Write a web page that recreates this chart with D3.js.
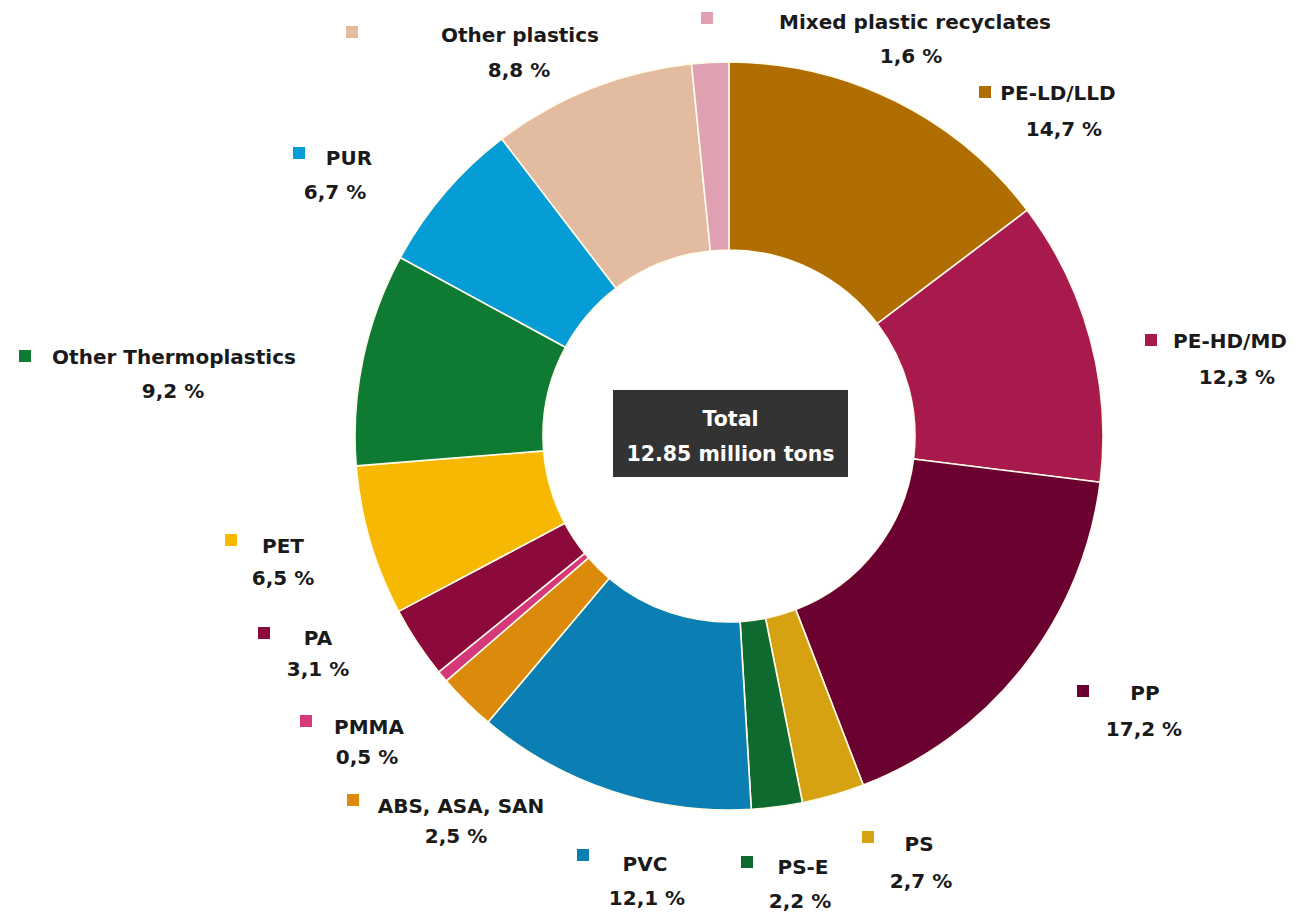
<!DOCTYPE html>
<html>
<head>
<meta charset="utf-8">
<script src="https://cdn.jsdelivr.net/npm/d3@7"></script>
<style>
  html, body { margin: 0; padding: 0; background: #ffffff; }
  svg { display: block; }
  text { font-family: "DejaVu Sans", "Open Sans", sans-serif; }
</style>
</head>
<body>
<svg id="chart" width="1299" height="917"></svg>
<script>
// Plastic types, in clockwise order from 12 o'clock
const categories = [
  "PE-LD/LLD", "PE-HD/MD", "PP", "PS", "PS-E", "PVC", "ABS, ASA, SAN",
  "PMMA", "PA", "PET", "Other Thermoplastics", "PUR", "Other plastics",
  "Mixed plastic recyclates"
];
// Share of total demand, percent
const shares = [14.7, 12.3, 17.2, 2.7, 2.2, 12.1, 2.5, 0.5, 3.1, 6.5, 9.2, 6.7, 8.8, 1.6];
const colors = [
  "#AF6D02", "#A8194D", "#6A0131", "#D7A211", "#0E6A2E", "#0B7FB3", "#DB8A0C",
  "#D5397A", "#8B0A3B", "#F7B802", "#0E7A32", "#069CD5", "#E2BBA1", "#DFA1B1"
];
const totalLines = ["Total", "12.85 million tons"];

// Label anchor layout: marker square position and text centre
const labelLayout = [
  { mx: 985,  my: 92,  tx: 1058, ty: 100, px: 1064, py: 136 },
  { mx: 1151, my: 340, tx: 1230, ty: 348, px: 1237, py: 384 },
  { mx: 1083, my: 691, tx: 1145, ty: 700, px: 1144, py: 736 },
  { mx: 868,  my: 837, tx: 919,  ty: 851, px: 921,  py: 888 },
  { mx: 747,  my: 862, tx: 803,  ty: 874, px: 800,  py: 908 },
  { mx: 583,  my: 855, tx: 645,  ty: 871, px: 647,  py: 905 },
  { mx: 353,  my: 800, tx: 461,  ty: 813, px: 456,  py: 843 },
  { mx: 306,  my: 721, tx: 369,  ty: 734, px: 367,  py: 764 },
  { mx: 264,  my: 633, tx: 318,  ty: 645, px: 318,  py: 676 },
  { mx: 231,  my: 540, tx: 283,  ty: 553, px: 283,  py: 585 },
  { mx: 25,   my: 356, tx: 174,  ty: 364, px: 173,  py: 398 },
  { mx: 299,  my: 153, tx: 349,  ty: 165, px: 335,  py: 199 },
  { mx: 352,  my: 32,  tx: 520,  ty: 42,  px: 519,  py: 77 },
  { mx: 707,  my: 18,  tx: 915,  ty: 29,  px: 911,  py: 63 }
];

const svg = d3.select("#chart");
const cx = 729, cy = 436;
const outerR = 374, innerR = 186;

const data = categories.map((c, i) => ({ name: c, value: shares[i], color: colors[i], pos: labelLayout[i] }));

const pie = d3.pie().sort(null).value(d => d.value);
const arc = d3.arc().innerRadius(innerR).outerRadius(outerR);

const ring = svg.append("g").attr("transform", `translate(${cx},${cy})`);
ring.selectAll("path")
  .data(pie(data))
  .join("path")
  .attr("d", arc)
  .attr("fill", d => d.data.color)
  .attr("stroke", "#fffbea")
  .attr("stroke-width", 1.6)
  .attr("stroke-linejoin", "round");

// Labels: coloured square, name, percentage
const fmt = v => v.toFixed(1).replace(".", ",") + " %";
const labels = svg.append("g");
data.forEach(d => {
  const p = d.pos;
  labels.append("rect")
    .attr("x", p.mx - 6).attr("y", p.my - 6)
    .attr("width", 12).attr("height", 12)
    .attr("fill", d.color);
  labels.append("text")
    .attr("x", p.tx).attr("y", p.ty)
    .attr("text-anchor", "middle")
    .attr("font-size", 20).attr("font-weight", 700)
    .attr("fill", "#1a1a1a")
    .text(d.name);
  labels.append("text")
    .attr("x", p.px).attr("y", p.py)
    .attr("text-anchor", "middle")
    .attr("font-size", 20).attr("font-weight", 700)
    .attr("fill", "#1a1a1a")
    .text(fmt(d.value));
});

// Centre total box
const box = svg.append("g");
box.append("rect")
  .attr("x", 613).attr("y", 390)
  .attr("width", 235).attr("height", 87)
  .attr("fill", "#333333");
box.selectAll("text.total")
  .data(totalLines)
  .join("text")
  .attr("class", "total")
  .attr("x", 730.5)
  .attr("y", (d, i) => 426 + i * 35)
  .attr("text-anchor", "middle")
  .attr("font-size", 20.5).attr("font-weight", 700)
  .attr("fill", "#ffffff")
  .text(d => d);
</script>
</body>
</html>
